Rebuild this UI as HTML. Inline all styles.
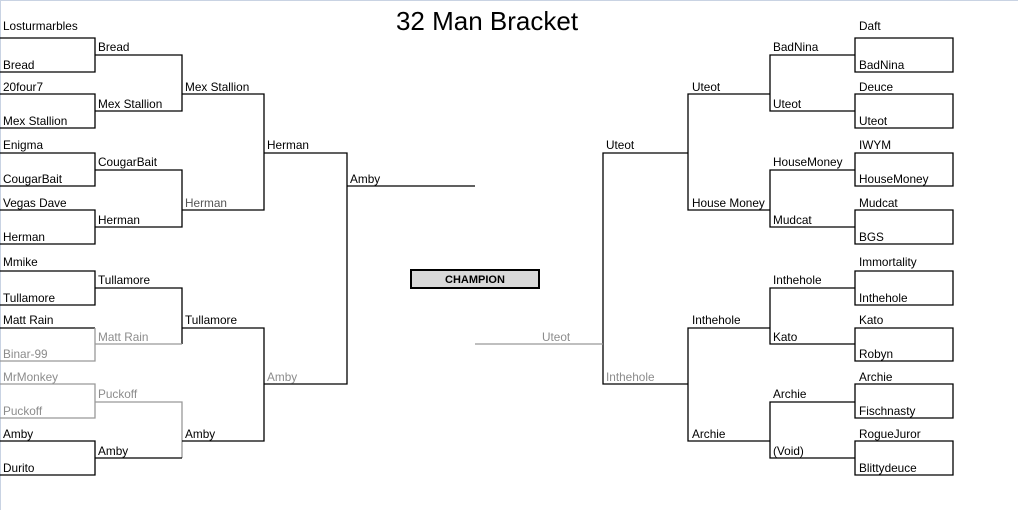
<!DOCTYPE html>
<html><head><meta charset="utf-8"><style>
html,body{margin:0;padding:0;background:#fff;}
svg{display:block;}
text{font-family:"Liberation Sans",sans-serif;font-size:11.8px;fill:#000;}
.g{fill:#8c8c8c;}
</style></head><body>
<svg width="1018" height="510" viewBox="0 0 1018 510" xmlns="http://www.w3.org/2000/svg">
<rect x="0" y="0" width="1018" height="510" fill="#fff"/>
<line x1="0" y1="0.5" x2="1018" y2="0.5" stroke="#c9d3e3"/>
<line x1="0.5" y1="0" x2="0.5" y2="510" stroke="#c9d3e3"/>
<text x="487" y="30" text-anchor="middle" style="font-size:26px">32 Man Bracket</text>
<g fill="none" stroke="#000" stroke-width="1.3">
<path d="M0 38H95V72H0M0 94H95V128H0M0 153H95V186H0M0 210H95V244H0M0 271H95V305H0M0 441H95V475H0"/>
<path d="M0 328H95" /><path d="M95 328V361H0" stroke="#999"/>
<path d="M0 384H95V418H0" stroke="#999"/>
<path d="M95 55H182V111H95M95 170H182V227H95M95 288H182V344"/>
<path d="M182 344H95" stroke="#999"/>
<path d="M95 402H182V458" stroke="#999"/><path d="M182 458H95"/>
<path d="M182 94H264V210H182M182 328H264V441H182"/>
<path d="M264 153H347V384H264"/>
<path d="M347 186H475"/>
<path d="M855 38H953V72H855ZM855 94H953V128H855ZM855 153H953V186H855ZM855 210H953V244H855ZM855 271H953V305H855ZM855 328H953V361H855ZM855 384H953V418H855ZM855 441H953V475H855Z"/>
<path d="M855 55H770V111H855M855 170H770V227H855M855 288H770V344H855M855 402H770V458H855"/>
<path d="M770 94H688V210H770M770 328H688V441H770"/>
<path d="M688 153H603V384H688"/>
<path d="M475 344H603" stroke="#999"/>
</g>
<rect x="411" y="270" width="128" height="18" fill="#d9d9d9" stroke="#000" stroke-width="2"/>
<text x="475" y="283" text-anchor="middle" style="font-weight:bold;font-size:11px">CHAMPION</text>
<text x="3" y="30">Losturmarbles</text><text x="3" y="69">Bread</text>
<text x="3" y="91">20four7</text><text x="3" y="125">Mex Stallion</text>
<text x="3" y="149">Enigma</text><text x="3" y="183">CougarBait</text>
<text x="3" y="207">Vegas Dave</text><text x="3" y="241">Herman</text>
<text x="3" y="266">Mmike</text><text x="3" y="302">Tullamore</text>
<text x="3" y="324">Matt Rain</text><text x="3" y="358" class="g">Binar-99</text>
<text x="3" y="381" class="g">MrMonkey</text><text x="3" y="415" class="g">Puckoff</text>
<text x="3" y="438">Amby</text><text x="3" y="472">Durito</text>
<text x="98" y="51">Bread</text><text x="98" y="108">Mex Stallion</text>
<text x="98" y="166">CougarBait</text><text x="98" y="224">Herman</text>
<text x="98" y="284">Tullamore</text><text x="98" y="341" class="g">Matt Rain</text>
<text x="98" y="398" class="g">Puckoff</text><text x="98" y="455">Amby</text>
<text x="185" y="91">Mex Stallion</text><text x="185" y="207" style="fill:#555">Herman</text>
<text x="185" y="324">Tullamore</text><text x="185" y="438">Amby</text>
<text x="267" y="149">Herman</text><text x="267" y="381" class="g">Amby</text>
<text x="350" y="183">Amby</text>
<text x="859" y="30">Daft</text><text x="859" y="69">BadNina</text>
<text x="859" y="91">Deuce</text><text x="859" y="125">Uteot</text>
<text x="859" y="149">IWYM</text><text x="859" y="183">HouseMoney</text>
<text x="859" y="207">Mudcat</text><text x="859" y="241">BGS</text>
<text x="859" y="266">Immortality</text><text x="859" y="302">Inthehole</text>
<text x="859" y="324">Kato</text><text x="859" y="358">Robyn</text>
<text x="859" y="381">Archie</text><text x="859" y="415">Fischnasty</text>
<text x="859" y="438">RogueJuror</text><text x="859" y="472">Blittydeuce</text>
<text x="773" y="51">BadNina</text><text x="773" y="108">Uteot</text>
<text x="773" y="166">HouseMoney</text><text x="773" y="224">Mudcat</text>
<text x="773" y="284">Inthehole</text><text x="773" y="341">Kato</text>
<text x="773" y="398">Archie</text><text x="773" y="455">(Void)</text>
<text x="692" y="91">Uteot</text><text x="692" y="207">House Money</text>
<text x="692" y="324">Inthehole</text><text x="692" y="438">Archie</text>
<text x="606" y="149">Uteot</text><text x="606" y="381" class="g">Inthehole</text>
<text x="542" y="341" class="g">Uteot</text>
</svg>
</body></html>
